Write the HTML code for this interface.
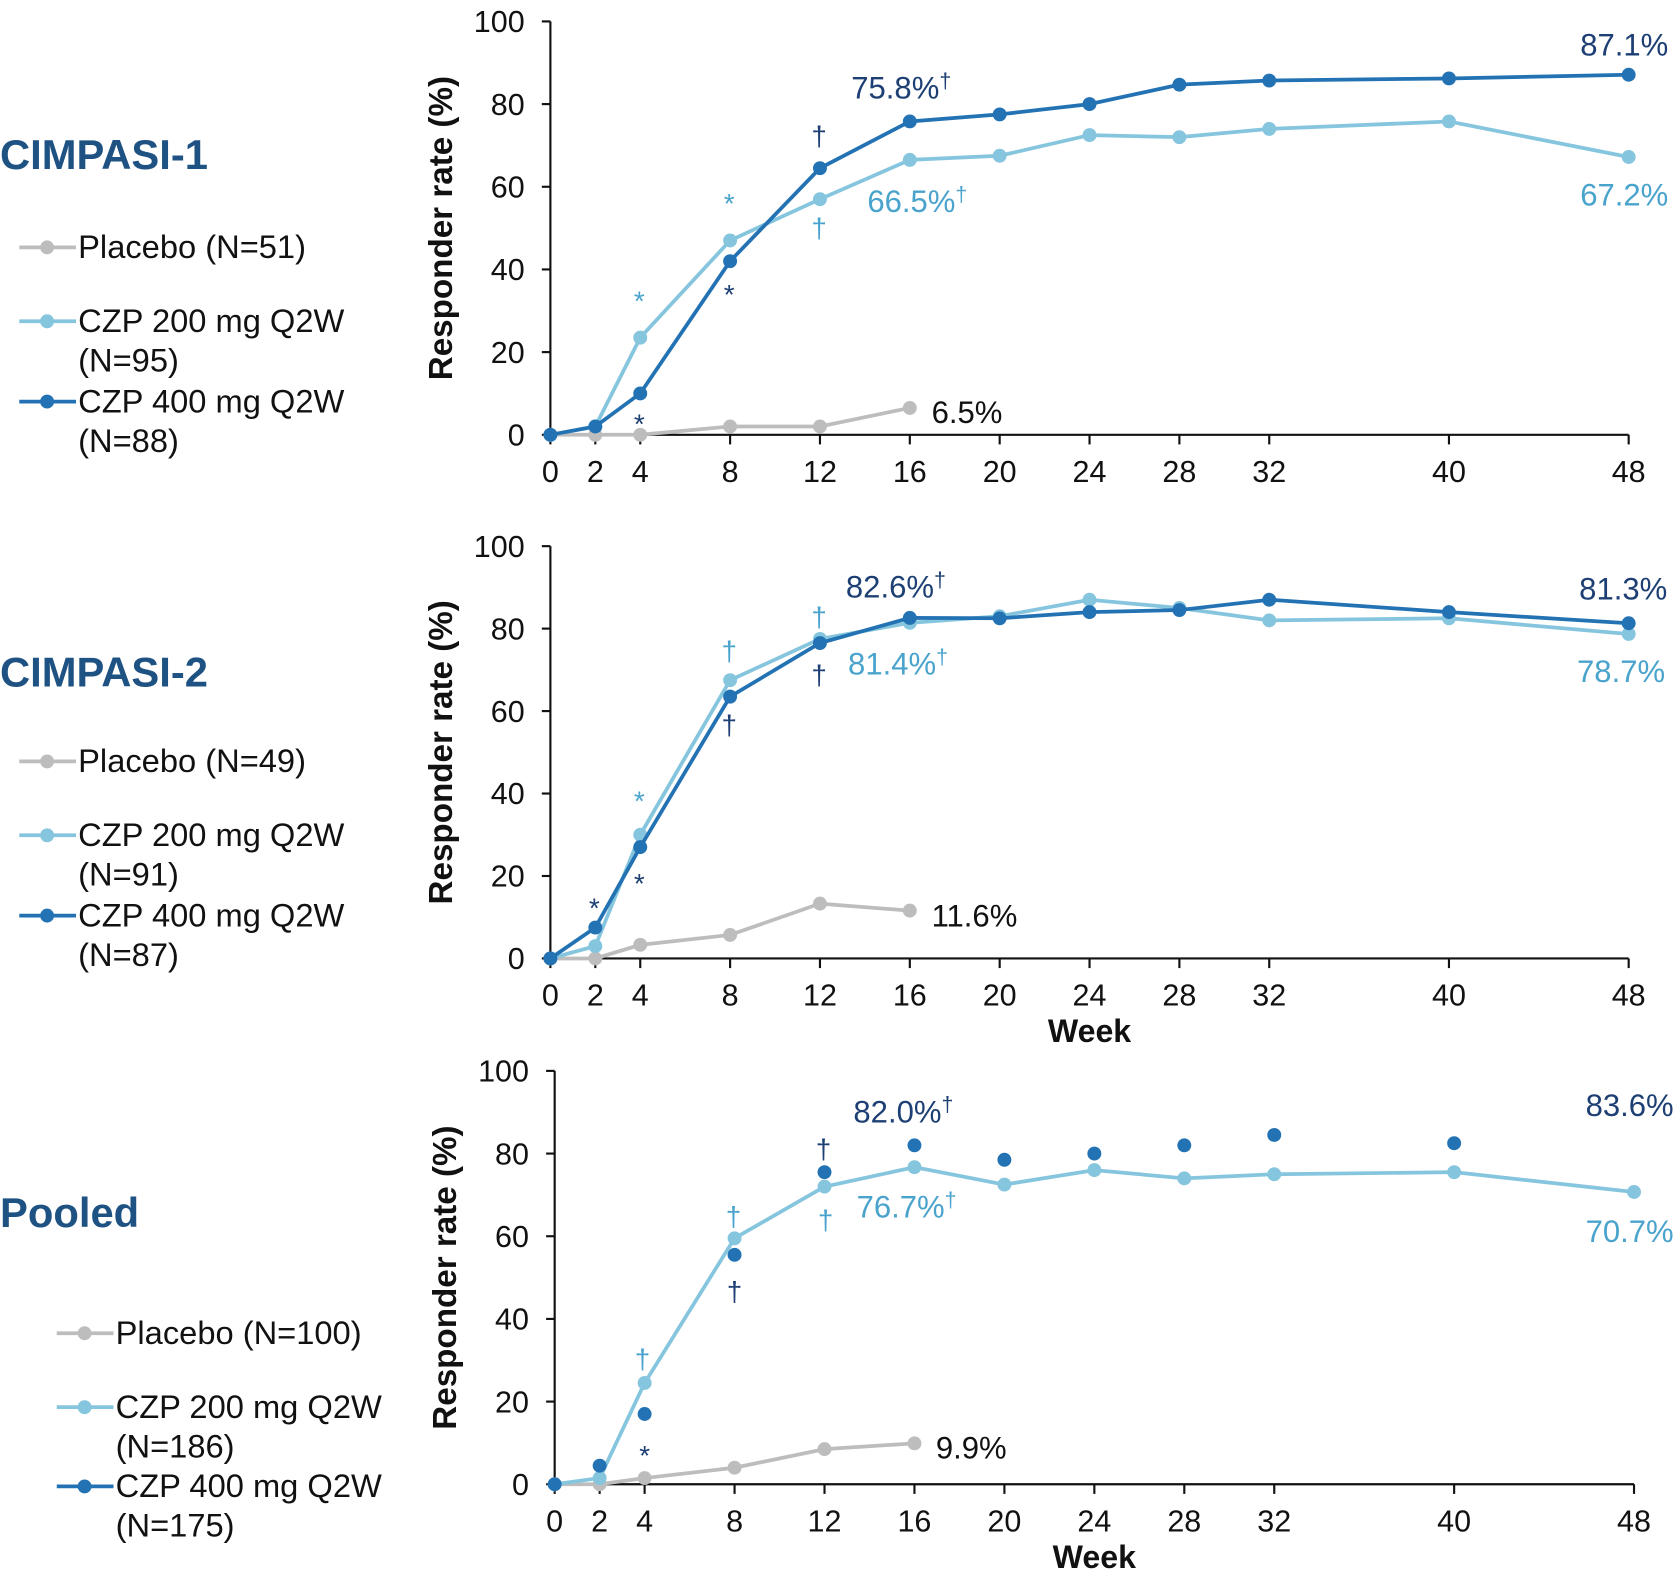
<!DOCTYPE html>
<html><head><meta charset="utf-8"><style>
html,body{margin:0;padding:0;background:#fff}
svg{display:block;font-family:"Liberation Sans",Arial,sans-serif}
</style></head><body>
<svg id="chart" width="1679" height="1571" viewBox="0 0 1568 1467" preserveAspectRatio="none" xmlns="http://www.w3.org/2000/svg"></svg>
<script>
const weeks = [0,2,4,8,12,16,20,24,28,32,40,48];
const xTicks = [0,2,4,8,12,16,20,24,28,32,40,48];
const yTicks = [0,20,40,60,80,100];
const p1Placebo = [0,0,0,2,2,6.5];
const p1Czp200 = [0,2,23.5,47,57,66.5,67.5,72.5,72,74,75.8,67.2];
const p1Czp400 = [0,2,10,42,64.5,75.8,77.5,80,84.7,85.7,86.2,87.1];
const p2Placebo = [0,0,3.3,5.7,13.3,11.6];
const p2Czp200 = [0,3,30,67.5,77.5,81.4,83,87,85,82,82.5,78.7];
const p2Czp400 = [0,7.5,27,63.5,76.5,82.6,82.5,84,84.5,87,84,81.3];
const p3Placebo = [0,0,1.5,4,8.5,9.9];
const p3Czp200 = [0,1.5,24.5,59.5,72,76.7,72.5,76,74,75,75.5,70.7];
const p3Czp400 = [0,4.5,17,55.5,75.5,82,78.5,80,82,84.5,82.5];

const NS='http://www.w3.org/2000/svg';
const svg=document.getElementById('chart');
const GREY='#bdbdbd', LIGHT='#86c5de', DARK='#2372b3', DTXT='#1d3f73', LTXT='#4aa3cc', TITLE='#1e5283';
function mk(tag,attrs,parent){const e=document.createElementNS(NS,tag);for(const k in attrs)e.setAttribute(k,attrs[k]);(parent||svg).appendChild(e);return e;}
function txt(x,y,s,size,fill,anchor,weight,parent){const t=mk('text',{x:x,y:y,'font-size':size,fill:fill,'text-anchor':anchor||'start','font-weight':weight||'normal'},parent);t.textContent=s;return t;}

function panel(P){
  const g=mk('g',{});
  
  
  const X=w=>P.x0+(P.x1-P.x0)*w/48;
  const Y=v=>P.y0-(P.y0-P.y100)*v/100;
  const ya=mk('line',{x1:P.x0,y1:P.y100,x2:P.x0,y2:P.y0,stroke:'#111','stroke-width':2},g);
  
  
  const xa=mk('line',{x1:P.x0,y1:P.y0,x2:P.x1,y2:P.y0,stroke:'#111','stroke-width':2},g);
  
  
  yTicks.forEach(v=>{mk('line',{x1:P.x0-8,y1:Y(v),x2:P.x0,y2:Y(v),stroke:'#111','stroke-width':2},g);
    const t=txt(P.x0-24,Y(v)+10,String(v),28.5,'#111','end','normal',g);
    
    });
  xTicks.forEach(w=>{mk('line',{x1:X(w),y1:P.y0,x2:X(w),y2:P.y0+9,stroke:'#111','stroke-width':2},g);
    const t=txt(X(w),P.y0+44,String(w),28.5,'#111','middle','normal',g);
    
    });
  const yt=txt(0,0,'Responder rate (%)',31,'#111','middle','bold',g);
  yt.setAttribute('transform','translate('+(P.x0-92)+','+((P.y0+P.y100)/2)+') rotate(-90)');
  
  
  if(P.week){const wt=txt((P.x0+P.x1)/2,P.y0+78,'Week',30,'#111','middle','bold',g);
    
    }
  function series(vals,color,nm,drawLine){
    const pts=vals.map((v,i)=>X(weeks[i])+','+Y(v)).join(' ');
    if(drawLine){const l=mk('polyline',{points:pts,fill:'none',stroke:color,'stroke-width':3.5},g);
      
      }
    vals.forEach((v,i)=>{const c=mk('circle',{cx:X(weeks[i]),cy:Y(v),r:6.5,fill:color},g);
      
      });
  }
  series(P.pl,GREY,'placebo',true);
  series(P.c2,LIGHT,'czp200',true);
  series(P.c4,DARK,'czp400',P.line4);
  P.marks.forEach(m=>{const t=txt(m[0],m[1],m[2],26,m[3],'middle','normal',g);
    
    });
  P.labels.forEach(m=>{const t=txt(m[0],m[1],m[2],29,m[3],m[4]||'start','normal',g);
    if(m[5]){const s=mk('tspan',{'font-size':20,dy:-10},t);s.textContent='†';}
    
    });
  const tt=txt(0,P.titleY,P.title,39,TITLE,'start','bold',g);
  
  
  P.legend.forEach(L=>{
    const lg=mk('g',{},g);
    
    
    mk('line',{x1:P.lx,y1:L[0],x2:P.lx+53,y2:L[0],stroke:L[1],'stroke-width':3.5},lg);
    mk('circle',{cx:P.lx+26,cy:L[0],r:6.5,fill:L[1]},lg);
    txt(P.lx+55,L[0]+10,L[2],30.5,'#111','start','normal',lg);
    if(L[3])txt(P.lx+55,L[0]+47,L[3],30.5,'#111','start','normal',lg);
  });
}

panel({name:'cimpasi-1-panel',x0:514,x1:1521,y0:406,y100:20,pl:p1Placebo,c2:p1Czp200,c4:p1Czp400,line4:true,week:false,
  title:'CIMPASI-1',titleY:158,lx:18,
  legend:[[231,GREY,'Placebo (N=51)'],[300,LIGHT,'CZP 200 mg Q2W','(N=95)'],[375,DARK,'CZP 400 mg Q2W','(N=88)']],
  marks:[[597,290,'*',LTXT],[681,199,'*',LTXT],[681,284,'*',DTXT],[597,405,'*',DTXT],[765,222,'†',LTXT],[765,136,'†',DTXT]],
  labels:[[795,92,'75.8%',DTXT,'start',1],[810,198,'66.5%',LTXT,'start',1],[1558,52,'87.1%',DTXT,'end'],[1558,192,'67.2%',LTXT,'end'],[870,395,'6.5%','#111']]});
panel({name:'cimpasi-2-panel',x0:514,x1:1521,y0:895,y100:510,pl:p2Placebo,c2:p2Czp200,c4:p2Czp400,line4:true,week:true,
  title:'CIMPASI-2',titleY:641,lx:18,
  legend:[[711,GREY,'Placebo (N=49)'],[780,LIGHT,'CZP 200 mg Q2W','(N=91)'],[855,DARK,'CZP 400 mg Q2W','(N=87)']],
  marks:[[555,857,'*',DTXT],[597,757,'*',LTXT],[597,834,'*',DTXT],[681,617,'†',LTXT],[681,686,'†',DTXT],[765,585,'†',LTXT],[765,639,'†',DTXT]],
  labels:[[790,558,'82.6%',DTXT,'start',1],[792,630,'81.4%',LTXT,'start',1],[1557,560,'81.3%',DTXT,'end'],[1555,637,'78.7%',LTXT,'end'],[870,865,'11.6%','#111']]});
panel({name:'pooled-panel',x0:518,x1:1526,y0:1386,y100:1000,pl:p3Placebo,c2:p3Czp200,c4:p3Czp400,line4:false,week:true,
  title:'Pooled',titleY:1146,lx:53,
  legend:[[1245,GREY,'Placebo (N=100)'],[1314,LIGHT,'CZP 200 mg Q2W','(N=186)'],[1388,DARK,'CZP 400 mg Q2W','(N=175)']],
  marks:[[600,1278,'†',LTXT],[602,1368,'*',DTXT],[685,1145,'†',LTXT],[686,1215,'†',DTXT],[769,1082,'†',DTXT],[771,1148,'†',LTXT]],
  labels:[[797,1048,'82.0%',DTXT,'start',1],[800,1137,'76.7%',LTXT,'start',1],[1563,1042,'83.6%',DTXT,'end'],[1563,1160,'70.7%',LTXT,'end'],[874,1362,'9.9%','#111']]});
</script>
</body></html>
